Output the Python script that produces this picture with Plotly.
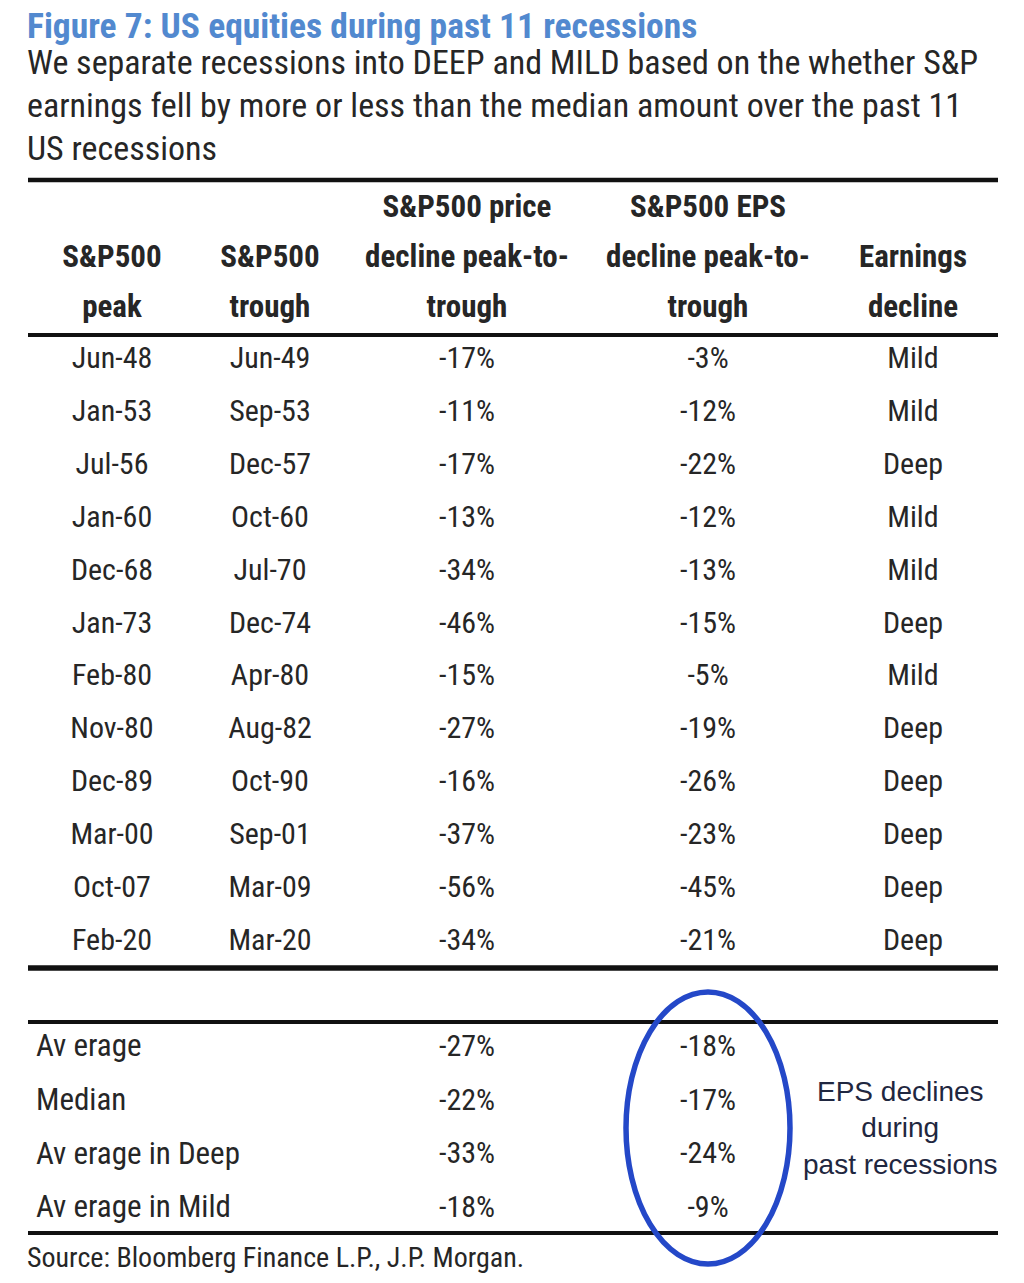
import plotly.graph_objects as go

# table content
peaks = ["Jun-48", "Jan-53", "Jul-56", "Jan-60", "Dec-68", "Jan-73",
         "Feb-80", "Nov-80", "Dec-89", "Mar-00", "Oct-07", "Feb-20"]
troughs = ["Jun-49", "Sep-53", "Dec-57", "Oct-60", "Jul-70", "Dec-74",
           "Apr-80", "Aug-82", "Oct-90", "Sep-01", "Mar-09", "Mar-20"]
price_decline = [-17, -11, -17, -13, -34, -46, -15, -27, -16, -37, -56, -34]
eps_decline = [-3, -12, -22, -12, -13, -15, -5, -19, -26, -23, -45, -21]
earnings_type = ["Mild", "Mild", "Deep", "Mild", "Mild", "Deep",
                 "Mild", "Deep", "Deep", "Deep", "Deep", "Deep"]

summary_labels = ["Av erage", "Median", "Av erage in Deep", "Av erage in Mild"]
summary_price = [-27, -22, -33, -18]
summary_eps = [-18, -17, -24, -9]

header_lines = [
    ["", "", "S&P500 price", "S&P500 EPS", ""],
    ["S&P500", "S&P500", "decline peak-to-", "decline peak-to-", "Earnings"],
    ["peak", "trough", "trough", "trough", "decline"],
]

title = "Figure 7: US equities during past 11 recessions"
subtitle = [
    "We separate recessions into DEEP and MILD based on the whether S&P",
    "earnings fell by more or less than the median amount over the past 11",
    "US recessions",
]
note = "EPS declines<br>during<br>past recessions"
source = "Source: Bloomberg Finance L.P., J.P. Morgan."

FONT = "Roboto Condensed, Liberation Sans Narrow, sans-serif"
NOTE_FONT = "Liberation Sans, Arial, sans-serif"
TXT = "#262626"

# page has an 8px body margin, so the axes run in page pixels from 8
OFF = 8
NUDGE = 2.5  # scatter text sits slightly high of its centre
col_x = [112, 270, 467, 708, 913]
header_y = [207, 257, 307]
row_y0, row_step = 358, 52.9
sum_y0, sum_step = 1046, 53.7


def pct(v):
    return f"{v}%"


def text_trace(xs, ys, labels, size=30, bold=False, pos="middle center",
               color=TXT):
    return go.Scatter(
        x=xs, y=[y + NUDGE for y in ys], text=labels, mode="text",
        textposition=pos, cliponaxis=False,
        textfont=dict(family=FONT, size=size, color=color,
                      weight="bold" if bold else "normal"),
        hoverinfo="skip", showlegend=False,
    )


fig = go.Figure()

# title + subtitle
fig.add_trace(text_trace([27], [27], [title], size=35.5, bold=True,
                         pos="middle right", color="#5289cf"))
fig.add_trace(text_trace([27] * len(subtitle), [63 + i * 43 for i in range(len(subtitle))],
                         subtitle, size=34, pos="middle right"))

# header
for ly, line in zip(header_y, header_lines):
    fig.add_trace(text_trace(col_x, [ly] * len(col_x), line, size=31, bold=True))

# body
row_y = [row_y0 + i * row_step for i in range(len(peaks))]
columns = [peaks, troughs, [pct(v) for v in price_decline],
           [pct(v) for v in eps_decline], earnings_type]
for cx, vals in zip(col_x, columns):
    fig.add_trace(text_trace([cx] * len(vals), row_y, vals))

# summary block
sum_y = [sum_y0 + i * sum_step for i in range(len(summary_labels))]
fig.add_trace(text_trace([36] * len(sum_y), sum_y, summary_labels, size=31,
                         pos="middle right"))
for cx, vals in [(col_x[2], summary_price), (col_x[3], summary_eps)]:
    fig.add_trace(text_trace([cx] * len(vals), sum_y, [pct(v) for v in vals]))

# source line
fig.add_trace(text_trace([27], [1257], [source], size=28, pos="middle right"))

# rules
for y, w in [(180, 4.5), (335, 4), (968, 5.5), (1022, 4), (1233, 4)]:
    fig.add_shape(type="line", x0=28, x1=998, y0=y, y1=y, xref="x", yref="y",
                  line=dict(color="#111111", width=w))

# circle round the EPS summary
fig.add_shape(type="circle", x0=626, x1=790, y0=992, y1=1264, xref="x", yref="y",
              line=dict(color="#2448c8", width=5.5))

fig.add_annotation(x=900, y=1128, text=note, showarrow=False, xref="x", yref="y",
                   font=dict(family=NOTE_FONT, size=28, color="#1f2740"),
                   align="center", yanchor="middle")

fig.update_layout(
    width=1024 - OFF, height=1283 - OFF,
    margin=dict(l=0, r=0, t=0, b=0),
    paper_bgcolor="white", plot_bgcolor="white",
    xaxis=dict(range=[OFF, 1024], visible=False, fixedrange=True),
    yaxis=dict(range=[1283, OFF], visible=False, fixedrange=True),
)

fig.write_html("out.html")
